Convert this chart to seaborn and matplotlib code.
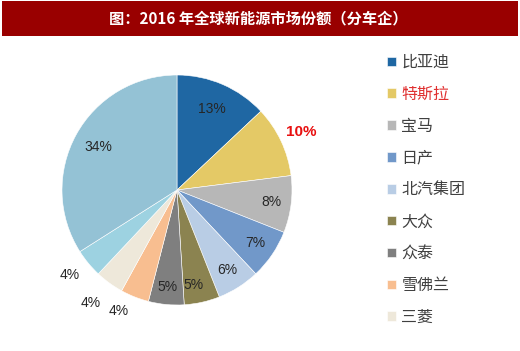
import matplotlib
matplotlib.use("Agg")
import matplotlib.pyplot as plt
import seaborn as sns
import numpy as np
from matplotlib.patches import Rectangle

# 2016 global NEV market share by automaker
companies = ["比亚迪", "特斯拉", "宝马", "日产", "北汽集团", "大众", "众泰", "雪佛兰", "三菱", "其他品牌", "其他"]
shares = [13, 10, 8, 7, 6, 5, 5, 4, 4, 4, 34]
pct_labels = ["13%", "10%", "8%", "7%", "6%", "5%", "5%", "4%", "4%", "4%", "34%"]
n_legend = 9  # only first nine shown in legend

colors = ["#1f67a3", "#e4c966", "#b7b7b7", "#7198c9", "#b9cde5",
          "#8b8350", "#7f7f7f", "#f8be90", "#eee8da", "#9dd2e1", "#94c2d5"]

sns.set_theme(style="white")
plt.rcParams['font.family'] = ['Liberation Sans', 'Noto Sans CJK SC', 'DejaVu Sans']

fig = plt.figure(figsize=(5.2, 3.51), dpi=100)
fig.patch.set_facecolor("white")

# title bar
fig.patches.append(Rectangle((2/520, 1 - 36/351), 516/520, 35/351,
                             transform=fig.transFigure, facecolor="#990000",
                             edgecolor="none", zorder=0))
fig.text(258/520, 1 - 18/351, "图：2016 年全球新能源市场份额（分车企）",
         color="white", fontsize=11, fontweight="bold", ha="center", va="center",
         family=['Noto Sans CJK SC', 'DejaVu Sans'])

ax = fig.add_axes([62/520, (351 - 190 - 115)/351, 230/520, 230/351])
wedges, _ = ax.pie(shares, colors=sns.color_palette(colors), startangle=90,
                   counterclock=False, radius=1,
                   wedgeprops=dict(edgecolor="white", linewidth=0.4))
ax.set_xlim(-1, 1)
ax.set_ylim(-1, 1)
ax.set_aspect("equal")

# radial position / angular nudge of each percentage label
label_r = [0.77, 1.19, 0.83, 0.82, 0.82, 0.84, 0.85, 1.17, 1.24, 1.19, 0.78]
label_shift = [0, 0, 0, 0, 0, -3, 0, -4, -1.5, -1, 0]
for i, w in enumerate(wedges):
    ang = np.deg2rad((w.theta1 + w.theta2) / 2 + label_shift[i])
    x = label_r[i] * np.cos(ang)
    y = label_r[i] * np.sin(ang)
    if pct_labels[i] == "10%":
        ax.text(x, y, pct_labels[i], ha="center", va="center", fontsize=11,
                fontweight="bold", color="#e81010")
    else:
        ax.text(x, y, pct_labels[i], ha="center", va="center", fontsize=10,
                color="#262626")

leg = fig.legend(wedges[:n_legend], companies[:n_legend], loc="upper left",
                 bbox_to_anchor=(387/520, 1 - 54/351), frameon=False,
                 handlelength=0.55, handleheight=0.55, handletextpad=0.35,
                 labelspacing=0.93, borderpad=0, borderaxespad=0,
                 prop=dict(family=['Noto Sans CJK SC', 'DejaVu Sans'], size=11.5))
for t in leg.get_texts():
    t.set_color("#e03030" if t.get_text() == "特斯拉" else "#404040")

fig.savefig("out.png", dpi=100)
